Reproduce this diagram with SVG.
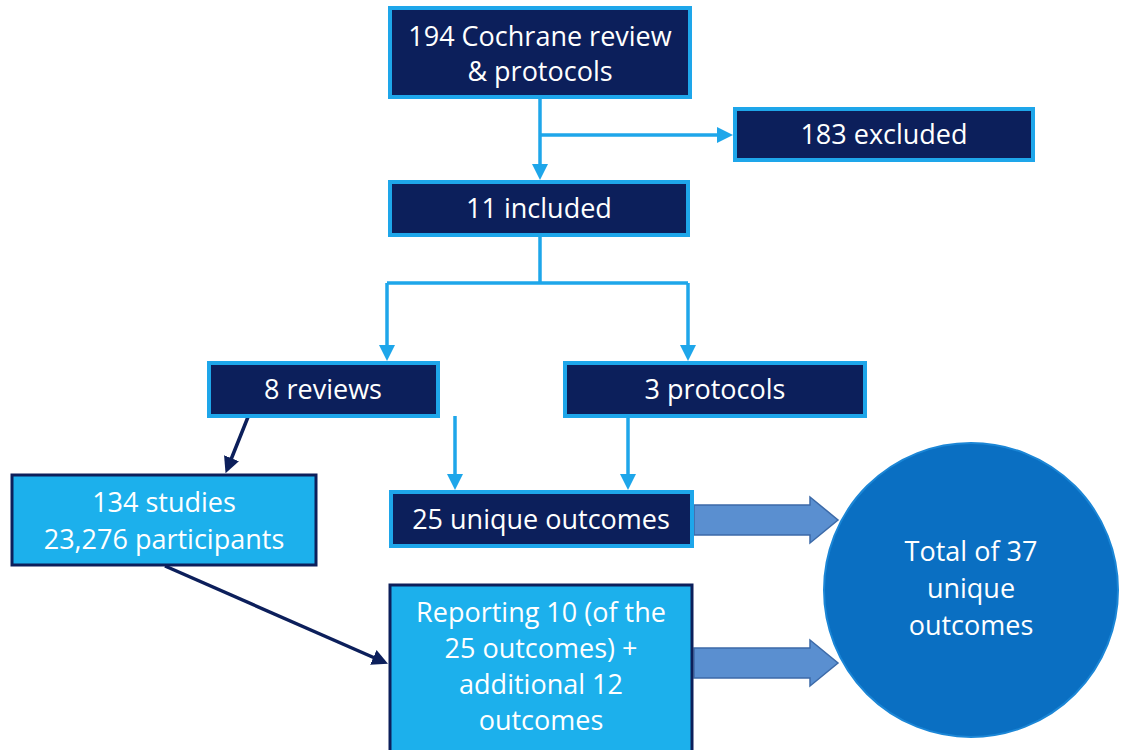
<svg xmlns="http://www.w3.org/2000/svg" width="1122" height="750" viewBox="0 0 1122 750">
<defs>
<style>
.dk{fill:#0c1f5b;stroke:#1ea6ea;stroke-width:4}
.lt{fill:#1cb0ec;stroke:#0c1f5b;stroke-width:3}
.t{font-family:"Open Sans","Liberation Sans",sans-serif;font-size:27px;fill:#fff;text-anchor:middle}
.c1{stroke:#1ea6ea;stroke-width:3.5;fill:none}
.c2{stroke:#0c1f5b;stroke-width:3.5;fill:none}
.blk{fill:#5a8fd0;stroke:#3c6aa8;stroke-width:1.5}
</style>
<marker id="ab" markerWidth="16" markerHeight="16" refX="4" refY="8" orient="auto" markerUnits="userSpaceOnUse" viewBox="0 0 16 16"><path d="M0,0 L16,8 L0,16 z" fill="#1ea6ea"/></marker>
<marker id="an" markerWidth="16" markerHeight="16" refX="4" refY="8" orient="auto" markerUnits="userSpaceOnUse" viewBox="0 0 16 16"><path d="M0,0 L16,8 L0,16 z" fill="#0c1f5b"/></marker>
</defs>
<rect width="1122" height="750" fill="#fff"/>
<g id="connectors">
<path class="c1" d="M540,97 V168" marker-end="url(#ab)"/>
<path class="c1" d="M540,135 H721" marker-end="url(#ab)"/>
<path class="c1" d="M540,235 V283 M387,283 H688"/>
<path class="c1" d="M387,283 V349" marker-end="url(#ab)"/>
<path class="c1" d="M688,283 V349" marker-end="url(#ab)"/>
<path class="c1" d="M455,416 V478" marker-end="url(#ab)"/>
<path class="c1" d="M628,416 V478" marker-end="url(#ab)"/>
<path class="c2" d="M248,417 L230,462" marker-end="url(#an)"/>
<path class="c2" d="M165,566 L377,659" marker-end="url(#an)"/>
<path class="blk" d="M694,505 H810 V497 L838,520 L810,543 V535 H694 z"/>
<path class="blk" d="M694,648 H810 V640 L838,663 L810,686 V678 H694 z"/>
</g>
<g id="n1"><rect class="dk" x="390" y="8" width="300" height="89"/><text class="t" x="540" y="46">194 Cochrane review</text><text class="t" x="540" y="81">&amp; protocols</text></g>
<g id="n2"><rect class="dk" x="735" y="109" width="298" height="51"/><text class="t" x="884" y="144">183 excluded</text></g>
<g id="n3"><rect class="dk" x="390" y="182" width="298" height="53"/><text class="t" x="539" y="218">11 included</text></g>
<g id="n4"><rect class="dk" x="209" y="363" width="229" height="53"/><text class="t" x="323" y="399">8 reviews</text></g>
<g id="n5"><rect class="dk" x="565" y="363" width="300" height="53"/><text class="t" x="715" y="399">3 protocols</text></g>
<g id="n6"><rect class="lt" x="12" y="475" width="304" height="90"/><text class="t" x="164" y="512">134 studies</text><text class="t" x="164" y="549">23,276 participants</text></g>
<g id="n7"><rect class="dk" x="391" y="492" width="301" height="54"/><text class="t" x="541" y="529">25 unique outcomes</text></g>
<g id="n8"><rect class="lt" x="390" y="585" width="302" height="170"/><text class="t" x="541" y="622">Reporting 10 (of the</text><text class="t" x="541" y="658">25 outcomes) +</text><text class="t" x="541" y="694">additional 12</text><text class="t" x="541" y="730">outcomes</text></g>
<g id="n9"><circle cx="971" cy="590" r="147" fill="#0a6fc2" stroke="#1b86d6" stroke-width="2"/><text class="t" x="971" y="561">Total of 37</text><text class="t" x="971" y="598">unique</text><text class="t" x="971" y="635">outcomes</text></g>
</svg>
